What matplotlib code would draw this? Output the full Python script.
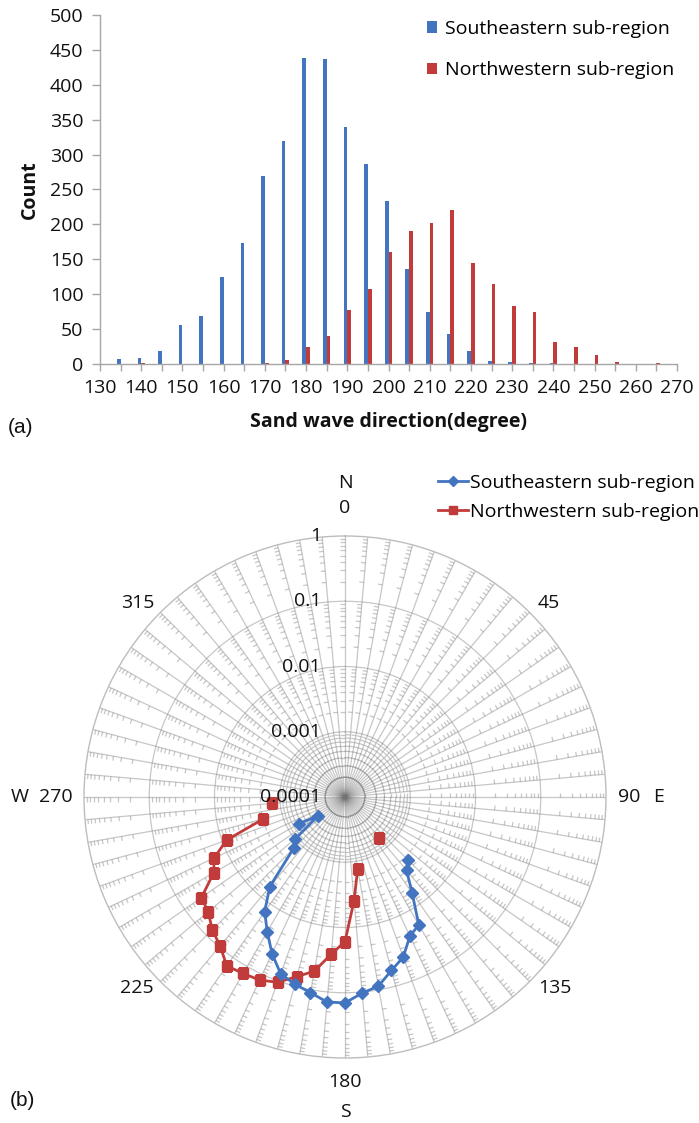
import numpy as np
import matplotlib
matplotlib.use("Agg")
import matplotlib.pyplot as plt
from matplotlib.collections import LineCollection
from matplotlib.lines import Line2D
from matplotlib.patches import Patch
from matplotlib.transforms import IdentityTransform
from matplotlib.ticker import NullLocator

plt.rcParams['font.family'] = ['Open Sans', 'DejaVu Sans']

# Sand wave direction bins (degrees, 5-degree classes)
directions = list(range(130, 275, 5))
# Number of sand waves per direction class
se_counts = [0, 7, 9, 19, 56, 69, 125, 173, 269, 319, 438, 437, 340, 286, 234,
             136, 74, 43, 19, 4, 3, 1, 2, 0, 0, 0, 0, 0, 0]
nw_counts = [0, 0, 1, 0, 0, 0, 0, 0, 2, 6, 25, 40, 78, 108, 160,
             190, 202, 220, 145, 115, 83, 74, 32, 25, 13, 3, 0, 2, 0]
series_names = ['Southeastern sub-region', 'Northwestern sub-region']
radial_ticks = [1, 0.1, 0.01, 0.001, 0.0001]
radial_labels = ['1', '0.1', '0.01', '0.001', '0.0001']

BLUE = '#4274C0'
RED = '#C23B3B'
AXIS_GRAY = '#A6A6A6'
GRID_RGB = (0.45, 0.45, 0.45)
GRID_ALPHA = 0.40
TEXT = '#111111'
FS = 14

W, H = 699, 1123
fig = plt.figure(figsize=(W / 100, H / 100), dpi=100)

# ---------------- (a) histogram ----------------
ax = fig.add_axes([100 / W, 1 - 364 / H, 577 / W, 349 / H])
x = np.array(directions, dtype=float)
ax.bar(x, se_counts, width=-0.9, align='edge', color=BLUE, linewidth=0)
ax.bar(x, nw_counts, width=0.9, align='edge', color=RED, linewidth=0)
ax.set_xlim(130, 270)
ax.set_ylim(0, 500)
ax.set_xticks(range(130, 271, 10))
ax.set_xticks(range(135, 270, 10), minor=True)
ax.set_yticks(range(0, 501, 50))
for s in ('top', 'right'):
    ax.spines[s].set_visible(False)
for s in ('left', 'bottom'):
    ax.spines[s].set_color(AXIS_GRAY)
    ax.spines[s].set_linewidth(1.0)
ax.tick_params(axis='x', which='both', length=5, width=1, color=AXIS_GRAY,
               labelsize=FS, labelcolor=TEXT, pad=6)
ax.tick_params(axis='y', which='both', length=6, width=1, color=AXIS_GRAY,
               labelsize=FS, labelcolor=TEXT, pad=6)
ax.set_ylabel('Count', fontsize=FS, fontweight='bold', color=TEXT,
              va='center')
ax.yaxis.set_label_coords((30 - 100) / 577, (364 - 190) / 349)
ax.set_xlabel('Sand wave direction(degree)', fontsize=FS, fontweight='bold',
              color=TEXT, va='center')
ax.xaxis.set_label_coords(0.5, -(422 - 364) / 349)

bar_handles = [Patch(facecolor=BLUE, edgecolor='none'),
               Patch(facecolor=RED, edgecolor='none')]
fig.legend(bar_handles, series_names, loc='upper left',
           bbox_to_anchor=(427 / W, 1 - 20 / H), frameon=False, fontsize=FS,
           handlelength=0.52, handleheight=0.52, handletextpad=0.42,
           labelspacing=1.2, borderpad=0, borderaxespad=0)

fig.text(8 / W, 1 - 428 / H, '(a)', fontsize=15, family='Liberation Sans',
         va='center', ha='left', color=TEXT)

# ---------------- (b) polar plot of relative frequency ----------------
cx, cy, R = 345, 797, 261
axp = fig.add_axes([(cx - R) / W, 1 - (cy + R) / H, 2 * R / W, 2 * R / H],
                   projection='polar')
axp.set_theta_zero_location('N')
axp.set_theta_direction(-1)
axp.set_rscale('log')
axp.set_rlim(1e-4, 1)
axp.set_thetagrids(np.arange(0, 360, 5), labels=[])
axp.set_rgrids([1e-3, 1e-2, 1e-1], labels=[])
axp.yaxis.set_minor_locator(NullLocator())
axp.grid(True, color=GRID_RGB, alpha=GRID_ALPHA, linewidth=0.9)
axp.spines['polar'].set_color('#BDBDBD')
axp.spines['polar'].set_linewidth(1.0)
axp.tick_params(axis='both', length=0)
axp.set_facecolor('white')

# minor log ticks drawn along every spoke
fig.canvas.draw()
centre = axp.transData.transform((0.0, 1e-4))
segs = []
tick_len = 4.5
for a in np.arange(0, 360, 5):
    for d in range(-4, 0):
        for m in range(2, 10):
            p = axp.transData.transform((np.deg2rad(a), m * 10.0 ** d))
            u = (p - centre) / np.hypot(*(p - centre))
            perp = np.array([-u[1], u[0]])
            segs.append([p, p + tick_len * perp])
axp.add_collection(LineCollection(segs, colors=[GRID_RGB], alpha=GRID_ALPHA,
                                  linewidths=0.9,
                                  transform=IdentityTransform(), zorder=1.5))

theta = np.deg2rad(directions)
se_total = float(sum(se_counts))
nw_total = float(sum(nw_counts))
se_frac = np.array([c / se_total if c > 0 else np.nan for c in se_counts])
nw_frac = np.array([c / nw_total if c > 0 else np.nan for c in nw_counts])
axp.plot(theta, se_frac, color=BLUE, lw=2, marker='D', ms=6, mec=BLUE,
         zorder=4, label=series_names[0])
axp.plot(theta, nw_frac, color=RED, lw=2, marker='s', ms=7.5, mec=RED,
         zorder=3, label=series_names[1])

for val, lab in zip(radial_ticks, radial_labels):
    axp.annotate(lab, xy=(0, val), xytext=(-24 * 0.72, 0),
                 textcoords='offset points', ha='right', va='center',
                 fontsize=FS, color=TEXT, zorder=6)

# compass labels around the outer ring (offsets in pixels)
compass = [
    (0, '0', 0, 28), (0, 'N', 0, 53),
    (45, '45', 19, 9), (315, '315', -23, 9),
    (90, '90', 23, 0), (90, 'E', 53, 0),
    (270, '270', -28, 0), (270, 'W', -64, 0),
    (135, '135', 25, -6), (225, '225', -24, -6),
    (180, '180', 0, -24), (180, 'S', 0, -54),
]
for ang, lab, dx, dy in compass:
    axp.annotate(lab, xy=(np.deg2rad(ang), 1), xytext=(dx * 0.72, dy * 0.72),
                 textcoords='offset points', ha='center', va='center',
                 fontsize=FS, color=TEXT, annotation_clip=False)

line_handles = [Line2D([], [], color=BLUE, lw=2, marker='D', ms=5),
                Line2D([], [], color=RED, lw=2, marker='s', ms=6)]
fig.legend(line_handles, series_names, loc='upper left',
           bbox_to_anchor=(438 / W, 1 - 474 / H), frameon=False, fontsize=FS,
           handlelength=1.55, handletextpad=0.12, labelspacing=0.55,
           borderpad=0, borderaxespad=0)

fig.text(10 / W, 1 - 1100 / H, '(b)', fontsize=15, family='Liberation Sans',
         va='center', ha='left', color=TEXT)

fig.savefig('out.png', dpi=100)
